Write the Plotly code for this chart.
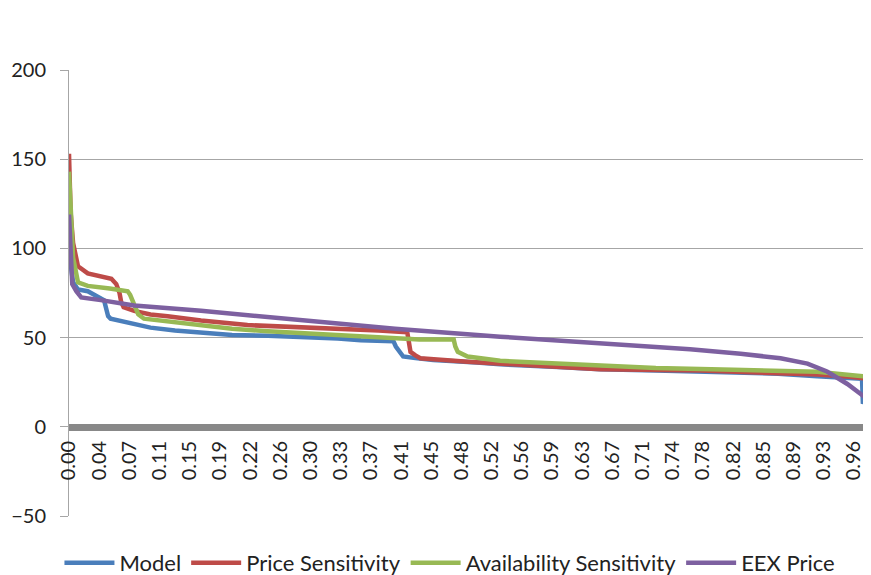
import plotly.graph_objects as go

# x tick labels as printed on the category axis
tick_labels = ["0.00", "0.04", "0.07", "0.11", "0.15", "0.19", "0.22", "0.26", "0.30",
               "0.33", "0.37", "0.41", "0.45", "0.48", "0.52", "0.56", "0.59", "0.63",
               "0.67", "0.71", "0.74", "0.78", "0.82", "0.85", "0.89", "0.93", "0.96"]

model_x = [0, 0.002, 0.005, 0.011, 0.023, 0.043, 0.046, 0.048, 0.051, 0.06, 0.08, 0.10,
           0.13, 0.162, 0.2, 0.244, 0.284, 0.33, 0.358, 0.398, 0.401, 0.405, 0.41, 0.425,
           0.447, 0.5, 0.529, 0.6, 0.652, 0.72, 0.775, 0.815, 0.87, 0.918, 0.95, 0.973,
           0.974, 0.984]
model_y = [98, 90, 81, 77, 76, 71, 65.6, 62, 60.6, 59.6, 58, 55.6, 54, 53, 51.5, 51, 50.5,
           49.5, 48.5, 48, 45, 42, 39.4, 38.5, 37.4, 36, 35, 33.5, 32.3, 31.5, 31, 30.8,
           29.8, 28.3, 27.5, 27, 14, 13]

price_x = [0, 0.002, 0.005, 0.011, 0.023, 0.04, 0.052, 0.058, 0.062, 0.064, 0.067, 0.08,
           0.1, 0.121, 0.162, 0.219, 0.284, 0.33, 0.38, 0.415, 0.417, 0.419, 0.425, 0.431,
           0.489, 0.529, 0.652, 0.775, 0.857, 0.918, 0.958, 0.979, 0.98, 0.984]
price_y = [153, 120, 103, 90, 86, 84, 83, 80, 75, 70, 67, 65, 63, 62, 59.6, 57, 56, 55,
           54, 53, 45, 42, 40, 38.4, 36.4, 35.5, 32.3, 31.5, 30.5, 29.3, 28, 27, 16, 15]

avail_x = [0, 0.002, 0.005, 0.011, 0.023, 0.05, 0.072, 0.075, 0.078, 0.085, 0.092, 0.12,
           0.162, 0.2, 0.244, 0.284, 0.33, 0.386, 0.43, 0.472, 0.474, 0.477, 0.489, 0.529,
           0.6, 0.652, 0.72, 0.815, 0.87, 0.918, 0.958, 0.979, 0.984]
avail_y = [143, 120, 95, 81, 79, 77.5, 76, 74, 71, 63, 60.6, 59, 57, 55, 53.5, 52.5, 51,
           49.5, 49, 49, 45, 42, 39.4, 37, 35.5, 34, 33, 32, 31.5, 30.8, 29, 28.3, 28]

eex_x = [0, 0.002, 0.004, 0.009, 0.015, 0.039, 0.08, 0.162, 0.284, 0.4, 0.529, 0.652,
         0.701, 0.762, 0.824, 0.873, 0.906, 0.93, 0.955, 0.984]
eex_y = [119, 90, 80, 76, 72.5, 71, 68, 65, 60, 55, 50.5, 47,
         45.5, 43.4, 41, 38.4, 35.4, 31, 24, 14]

series = [
    ("Model", model_x, model_y, "#4A7EBB"),
    ("Price Sensitivity", price_x, price_y, "#BE4B48"),
    ("Availability Sensitivity", avail_x, avail_y, "#98B954"),
    ("EEX Price", eex_x, eex_y, "#7D60A0"),
]

fig = go.Figure()
for name, xs, ys, col in series:
    fig.add_trace(go.Scatter(x=xs, y=ys, name=name, mode="lines",
                             line=dict(color=col, width=4.5)))

tick_pos = [i / len(tick_labels) for i in range(len(tick_labels))]

fam = "Lato, Carlito, sans-serif"
# page body has an 8px margin, so the figure is sized 8px smaller
fig.update_layout(
    width=863, height=567,
    margin=dict(l=61, r=0, t=62, b=59, autoexpand=False),
    paper_bgcolor="white", plot_bgcolor="white",
    font=dict(family=fam, size=19, color="#222"),
    showlegend=True,
    legend=dict(orientation="h", x=0.475, xanchor="center", y=-0.105, yanchor="middle",
                font=dict(family=fam, size=22, color="#222"),
                itemwidth=50),
    xaxis=dict(range=[0, 0.984], tickvals=tick_pos, ticktext=tick_labels,
               tickangle=-90, showgrid=False, zeroline=False,
               showline=True, linewidth=7, linecolor="#888888",
               anchor="free", position=0.2, ticks="", automargin=False,
               ticklabelstandoff=2, tickfont=dict(family=fam, size=20, color="#222")),
    yaxis=dict(range=[-50, 200], dtick=50, showgrid=True, gridcolor="#A6A6A6",
               gridwidth=1, zeroline=False, showline=True, linecolor="#A6A6A6",
               ticks="outside", ticklen=8, tickcolor="#A6A6A6", automargin=False,
               ticklabelstandoff=10, tickfont=dict(family=fam, size=20, color="#222")),
)

fig.write_html("out.html")
